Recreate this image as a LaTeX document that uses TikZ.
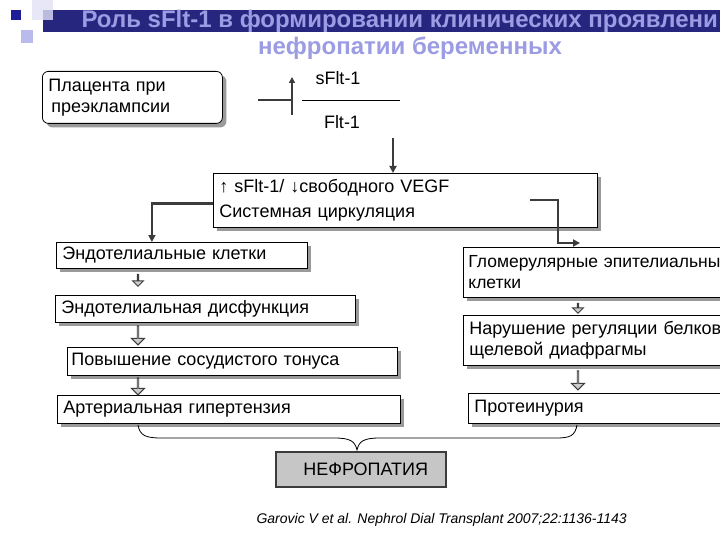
\documentclass[tikz,border=0pt]{standalone}
\usepackage{fontspec}
\setmainfont{Liberation Sans}
\usetikzlibrary{arrows.meta, shadows, shapes.arrows}
\definecolor{titlebg}{HTML}{26267F}
\definecolor{titlec}{HTML}{9C9CE4}
\definecolor{darkc}{HTML}{3C3C3C}
\definecolor{shadc}{HTML}{9A9A9A}

\begin{document}
\begin{tikzpicture}[x=1pt, y=-1pt, font=\fontsize{18}{21}\selectfont,
      box/.style={draw, line width=0.8pt, fill=white, anchor=north west, align=left, inner xsep=6pt, inner ysep=3pt,
        drop shadow={shadow xshift=4pt, shadow yshift=-4pt, fill=shadc, opacity=1}},
      conn/.style={draw=darkc, line width=2.4pt, -{Triangle[length=7pt, width=7pt]}},
      blk/.style={single arrow, draw=darkc, fill=gray!40, line width=0.9pt, shape border rotate=270,
        single arrow head extend=3.5pt, inner sep=0pt, minimum width=13pt, minimum height=#1},
      ttl/.style={font=\fontsize{24}{28}\selectfont\bfseries, text=titlec}]
    \fill[white] (0,0) rectangle (720,540);
    \clip (0,0) rectangle (720,540);
    % title band and squares
    \fill[titlebg] (43,10) rectangle (720,32);
    \fill[titlec!30, opacity=0.8] (32,0) rectangle (53,20);
    \fill[titlec!70] (21,30) rectangle (33,43);
    \fill[titlebg!80!blue] (11,10) rectangle (21,20);
    \node[ttl, anchor=west] (ttl1) at (78,21) {Роль sFlt-1 в формировании клинических проявлени};
    \node[ttl] (ttl2) at (410,48) {нефропатии беременных};
    % placenta and sFlt-1 / Flt-1
    \node[box, rounded corners=6pt, text width=168pt, minimum height=52pt] (plac) at (42,71) {Плацента при\\\hspace*{3pt}преэклампсии};
    \coordinate (xl) at (258,100);
    \coordinate (xc) at (292,100);
    \coordinate (xb) at (292,115);
    \coordinate (xt) at (292,77);
    \draw[darkc, line width=2.4pt] (xl) -- (xc);
    \draw[conn, -{Triangle[length=6pt, width=6pt]}] (xb) -- (xt);
    \coordinate (fl) at (302,100);
    \coordinate (fr) at (400,100);
    \draw[line width=0.8pt] (fl) -- (fr);
    \node (sflt) at (338,78) {sFlt-1};
    \node (flt) at (342,122) {Flt-1};
    % main box
    \node[box, text width=372pt, minimum height=54pt] (main) at (213,173) {↑ sFlt-1/ ↓свободного VEGF\\[4pt]Системная циркуляция};
    \coordinate (dn) at (393,138);
    \draw[conn] (dn) -- (dn |- main.north);
    % left column
    \node[box, text width=239pt, minimum height=26pt] (endc) at (56,242) {Эндотелиальные клетки};
    \node[box, text width=288pt, minimum height=27pt] (endd) at (55,295) {Эндотелиальная дисфункция};
    \node[box, text width=322pt, inner xsep=4pt, minimum height=28pt] (tone) at (67,347) {Повышение сосудистого тонуса};
    \node[box, text width=331pt, minimum height=28pt] (hyp) at (57,395) {Артериальная гипертензия};
    \draw[conn] ([yshift=-3pt]main.west) -| ([xshift=-30pt]endc.north);
    \node[blk=12pt, minimum width=11pt, single arrow head extend=3.5pt] (a1) at (138,280) {};
    \node[blk=19pt] (a2) at (138,335) {};
    \node[blk=17pt] (a3) at (138,386) {};
    % right column
    \node[box, text width=290pt, inner xsep=5pt, minimum height=50pt, font=\fontsize{17.5}{21}\selectfont] (glom) at (463,247) {Гломерулярные эпителиальны\\клетки};
    \node[box, text width=290pt, minimum height=50pt] (slit) at (463,315) {Нарушение регуляции белков\\щелевой диафрагмы};
    \node[box, text width=290pt, minimum height=30pt] (prot) at (468,393) {Протеинурия};
    \coordinate (rs) at (530,200);
    \coordinate (re) at (580,243);
    \draw[conn] (rs) -- (558,200) |- (re);
    \node[blk=10pt, minimum width=11pt] (a4) at (578,308) {};
    \node[blk=19pt] (a5) at (578,380) {};
    % brace to nephropathy
    \coordinate (bl) at (138,425);
    \coordinate (br) at (577,425);
    \coordinate (bt) at (357,450);
    \draw[line width=0.8pt] (bl) .. controls (140,436) and (146,438) .. (162,438) -- (334,438)
      .. controls (350,438) and (355,441) .. (bt) .. controls (359,441) and (364,438) .. (380,438)
      -- (556,438) .. controls (570,438) and (575,436) .. (br);
    \node[draw=darkc, line width=1.5pt, fill=gray!45, minimum width=170pt, minimum height=35pt, anchor=north west] (neph) at (275,451) {\hspace*{10pt}НЕФРОПАТИЯ};
    \node[font=\fontsize{14}{17}\selectfont\itshape, anchor=west] (cite) at (253,520) {Garovic V et al. Nephrol Dial Transplant 2007;22:1136-1143};
\end{tikzpicture}
\end{document}
